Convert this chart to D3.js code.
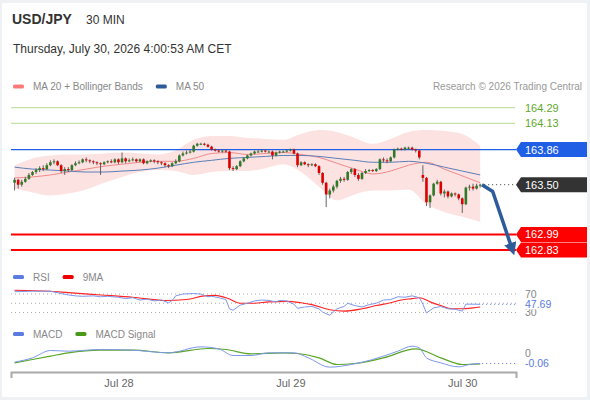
<!DOCTYPE html>
<html>
<head>
<meta charset="utf-8">
<script src="https://cdn.jsdelivr.net/npm/d3@7"></script>
<style>
    body { margin: 0; background: #eef2f5; }
    svg { display: block; font-family: "Liberation Sans", Arial, sans-serif; }
    .legend text { font-size: 10px; fill: #888; }
    .lvl { font-size: 11px; }
    .ind { font-size: 10.5px; }
</style>
</head>
<body>
<script>
// ---- data (USD/JPY, 30 min bars from Jul 27 09:30) ----
const opens = [163.52,163.55,163.50,163.53,163.56,163.60,163.63,163.65,163.67,163.66,
    163.70,163.73,163.74,163.70,163.64,163.66,163.65,163.70,163.72,163.73,
    163.76,163.75,163.74,163.73,163.72,163.71,163.73,163.74,163.73,163.76,
    163.73,163.77,163.74,163.75,163.76,163.74,163.76,163.72,163.74,163.75,
    163.74,163.73,163.72,163.70,163.69,163.72,163.74,163.80,163.82,163.83,
    163.84,163.90,163.92,163.92,163.91,163.89,163.86,163.85,163.84,163.85,
    163.84,163.67,163.66,163.69,163.74,163.77,163.80,163.82,163.84,163.84,
    163.85,163.84,163.84,163.80,163.83,163.84,163.84,163.85,163.86,163.82,
    163.70,163.73,163.71,163.70,163.71,163.69,163.62,163.52,163.40,163.44,
    163.48,163.54,163.56,163.55,163.63,163.66,163.60,163.56,163.62,163.64,
    163.65,163.64,163.66,163.76,163.75,163.74,163.78,163.86,163.87,163.86,
    163.88,163.88,163.86,163.85,163.60,163.57,163.32,163.39,163.51,163.53,
    163.41,163.43,163.38,163.41,163.40,163.36,163.30,163.47,163.48,163.46,
    163.49];
const closes = [163.55,163.50,163.53,163.56,163.60,163.63,163.65,163.67,163.66,163.70,
    163.73,163.74,163.70,163.64,163.66,163.65,163.70,163.72,163.73,163.76,
    163.75,163.74,163.73,163.72,163.71,163.73,163.74,163.73,163.76,163.73,
    163.77,163.74,163.75,163.76,163.74,163.76,163.72,163.74,163.75,163.74,
    163.73,163.72,163.70,163.69,163.72,163.74,163.80,163.82,163.83,163.84,
    163.90,163.92,163.92,163.91,163.89,163.86,163.85,163.84,163.85,163.84,
    163.67,163.66,163.69,163.74,163.77,163.80,163.82,163.84,163.84,163.85,
    163.84,163.84,163.80,163.83,163.84,163.84,163.85,163.86,163.82,163.70,
    163.73,163.71,163.70,163.71,163.69,163.62,163.52,163.40,163.44,163.48,
    163.54,163.56,163.55,163.63,163.66,163.60,163.56,163.62,163.64,163.65,
    163.64,163.66,163.76,163.75,163.74,163.78,163.86,163.87,163.86,163.88,
    163.88,163.86,163.85,163.78,163.57,163.32,163.39,163.51,163.53,163.41,
    163.43,163.38,163.41,163.40,163.36,163.30,163.47,163.48,163.46,163.49,
    163.50];
const highs = [163.57,163.56,163.55,163.58,163.62,163.64,163.67,163.69,163.70,163.72,
    163.75,163.76,163.75,163.71,163.68,163.68,163.71,163.74,163.75,163.77,
    163.78,163.76,163.75,163.74,163.73,163.74,163.75,163.76,163.77,163.77,
    163.83,163.78,163.77,163.78,163.77,163.77,163.77,163.75,163.76,163.76,
    163.75,163.74,163.73,163.71,163.73,163.76,163.81,163.84,163.85,163.86,
    163.91,163.93,163.93,163.93,163.92,163.90,163.87,163.86,163.86,163.86,
    163.85,163.69,163.70,163.75,163.78,163.81,163.83,163.85,163.86,163.86,
    163.86,163.85,163.85,163.84,163.85,163.85,163.86,163.87,163.87,163.83,
    163.74,163.74,163.72,163.72,163.72,163.70,163.63,163.53,163.46,163.50,
    163.55,163.58,163.58,163.64,163.67,163.67,163.62,163.63,163.66,163.66,
    163.66,163.67,163.77,163.78,163.77,163.79,163.87,163.88,163.88,163.89,
    163.89,163.89,163.87,163.86,163.70,163.58,163.40,163.52,163.55,163.54,
    163.45,163.44,163.42,163.42,163.41,163.37,163.48,163.50,163.51,163.51,
    163.51];
const lows = [163.44,163.46,163.48,163.52,163.55,163.59,163.61,163.63,163.64,163.65,
    163.69,163.71,163.69,163.62,163.60,163.63,163.64,163.69,163.71,163.72,
    163.73,163.72,163.71,163.70,163.60,163.70,163.72,163.72,163.72,163.71,
    163.72,163.72,163.73,163.74,163.73,163.73,163.71,163.71,163.73,163.72,
    163.71,163.70,163.68,163.67,163.68,163.71,163.73,163.79,163.81,163.82,
    163.83,163.89,163.91,163.90,163.88,163.85,163.84,163.83,163.83,163.83,
    163.65,163.64,163.65,163.68,163.73,163.76,163.79,163.81,163.83,163.83,
    163.83,163.83,163.76,163.79,163.82,163.83,163.83,163.84,163.81,163.68,
    163.69,163.70,163.68,163.69,163.68,163.60,163.50,163.27,163.36,163.42,
    163.46,163.52,163.53,163.54,163.61,163.58,163.54,163.55,163.61,163.63,
    163.63,163.63,163.65,163.73,163.72,163.73,163.77,163.85,163.85,163.85,
    163.86,163.85,163.83,163.76,163.53,163.28,163.26,163.38,163.50,163.39,
    163.37,163.36,163.37,163.38,163.34,163.21,163.29,163.44,163.44,163.45,
    163.47];

// MA 20 + Bollinger bands and MA 50, read every 5 bars
const bandIdx = [0,5,10,15,20,25,30,35,40,45,50,55,60,65,70,75,80,85,90,95,100,105,110,115,120,125,130];
const bbUpper = [163.70,163.77,163.80,163.81,163.81,163.82,163.83,163.82,163.81,163.85,163.96,164.00,164.00,
    163.98,163.97,163.96,164.02,164.06,164.04,163.98,163.92,163.97,164.04,164.06,164.05,164.02,163.90];
const bbLower = [163.46,163.42,163.39,163.41,163.45,163.52,163.58,163.63,163.65,163.64,163.60,163.63,163.64,
    163.64,163.67,163.71,163.63,163.48,163.34,163.40,163.44,163.44,163.45,163.30,163.22,163.17,163.12];
const ma20 = [163.57,163.58,163.60,163.63,163.66,163.69,163.71,163.73,163.74,163.74,163.77,163.82,163.83,
    163.81,163.82,163.83,163.81,163.78,163.72,163.66,163.61,163.64,163.70,163.73,163.66,163.59,163.52];
const ma50 = [163.68,163.66,163.65,163.64,163.63,163.63,163.64,163.65,163.67,163.70,163.73,163.75,163.77,
    163.78,163.79,163.80,163.80,163.79,163.77,163.75,163.73,163.73,163.74,163.72,163.68,163.64,163.60];

// RSI and its 9 period MA
const rsiIdx = [0,5,10,13,15,17,19,22,24,26,29,31,33,35,37,39,41,43,44,45,47,50,52,54,55,57,59,60,61,63,
    65,67,69,71,73,74,76,78,79,81,83,85,86,88,90,92,93,95,97,99,101,103,105,107,109,111,113,114,115,117,
    119,121,123,124,125,126,128,130];
const rsiVal = [75,76,76,71,68,66,65,66,64,65,63,60,62,57,59,55,57,51,56,66,70,71,70,64,65,62,58,38,35,46,
    50,55,57,56,53,56,55,48,39,42,43,38,31,24,38,43,50,45,42,47,50,57,58,64,63,66,62,48,29,40,
    43,38,37,35,33,48,48,47.69];
const rsiMaIdx = [0,10,15,24,33,42,48,53,56,60,63,67,71,76,80,83,88,92,97,101,105,108,111,113,116,119,122,125,128,130];
const rsiMaVal = [78,76,73,68,63,56,58,66,67,59,50,50,53,54,51,47,36,33,38,45,51,57,60,62,53,45,38,38,40,42];
const rsiLevels = [70, 50, 30];

// MACD and signal
const macdIdx = [0,5,10,15,24,33,43,52,57,61,66,71,78,82,88,94,100,107,111,113,115,119,124,127,130];
const macdVal = [-0.052,-0.026,0.018,0.014,0.024,0.020,0.004,0.040,0.028,-0.012,-0.012,0.004,0.004,
    -0.026,-0.082,-0.066,-0.036,0.014,0.044,0.034,-0.026,-0.056,-0.080,-0.066,-0.06];
const signalIdx = [0,10,15,24,33,43,54,59,66,75,79,85,90,95,103,112,119,125,130];
const signalVal = [-0.056,-0.016,0.004,0.020,0.020,0.004,0.030,0.024,-0.002,0.004,0.0,-0.026,-0.066,
    -0.060,-0.026,0.028,-0.026,-0.066,-0.062];

// key levels
const resistances = [164.29, 164.13];
const pivot = 163.86;
const lastPrice = 163.50;
const supports = [162.99, 162.83];

// forecast arrow (time, price)
const arrowTimes = [new Date(2026,6,30,2,45), new Date(2026,6,30,4,15), new Date(2026,6,30,6,55)];
const arrowPrices = [163.50, 163.43, 162.85];

const dayTicks = [new Date(2026,6,28), new Date(2026,6,29), new Date(2026,6,30)];

// ---- drawing ----
const firstBar = new Date(2026,6,27,9,30);
const barTime = i => d3.timeMinute.offset(firstBar, 30 * i);

const svg = d3.select("body").append("svg")
    .attr("width", 590)
    .attr("height", 400);

svg.append("rect")
    .attr("x", 2).attr("y", 3)
    .attr("width", 585).attr("height", 394)
    .attr("fill", "#fff");

const x = d3.scaleTime()
    .domain([new Date(2026,6,27,9,0), new Date(2026,6,30,7,30)])
    .range([11, 516]);
const y = d3.scaleLinear().domain([162.83, 164.29]).range([250, 107.7]);
const yRsi = d3.scaleLinear().domain([30, 70]).range([312.5, 294]);
const yMacd = d3.scaleLinear().domain([-0.06, 0]).range([363.5, 353.5]);

// header
svg.append("text").attr("x", 12).attr("y", 24)
    .attr("font-size", 14).attr("font-weight", "bold").attr("fill", "#333")
    .text("USD/JPY");
svg.append("text").attr("x", 86).attr("y", 24)
    .attr("font-size", 12).attr("fill", "#333")
    .text("30 MIN");
svg.append("text").attr("x", 13).attr("y", 52.5)
    .attr("font-size", 12).attr("fill", "#333")
    .text("Thursday, July 30, 2026 4:00:53 AM CET");
svg.append("text").attr("x", 582).attr("y", 89.5)
    .attr("font-size", 10).attr("fill", "#999").attr("text-anchor", "end")
    .text("Research \u00a9 2026 Trading Central");

function legend(items, ly) {
    let g = svg.append("g").attr("class", "legend");
    let lx = 13;
    items.forEach(function (it) {
        g.append("rect")
            .attr("x", lx).attr("y", ly - 2)
            .attr("width", 11).attr("height", 4).attr("rx", 1.5)
            .attr("fill", it[1]);
        let t = g.append("text")
            .attr("x", lx + 20).attr("y", ly + 3.5)
            .text(it[0]);
        lx += 20 + t.node().getComputedTextLength() + 13;
    });
}
legend([["MA 20 + Bollinger Bands", "#ff7b7b"], ["MA 50", "#2e5c99"]], 86.5);
legend([["RSI", "#5b7be0"], ["9MA", "#ee0000"]], 277);
legend([["MACD", "#5b7be0"], ["MACD Signal", "#4a9a1a"]], 334);

// main panel
const main = svg.append("g");

let bandData = bandIdx.map((b, k) => ({t: barTime(b), up: bbUpper[k], lo: bbLower[k], m20: ma20[k], m50: ma50[k]}));

main.append("path")
    .datum(bandData)
    .attr("fill", "#fde2e2")
    .attr("d", d3.area()
        .x(d => x(d.t))
        .y0(d => y(d.lo))
        .y1(d => y(d.up))
        .curve(d3.curveMonotoneX));

// green resistance lines
resistances.forEach(function (r) {
    main.append("line")
        .attr("x1", 11).attr("x2", 515)
        .attr("y1", y(r)).attr("y2", y(r))
        .attr("stroke", "#c6e0a8").attr("stroke-width", 1.2);
    main.append("text").attr("class", "lvl")
        .attr("x", 525).attr("y", y(r)).attr("dy", "0.35em")
        .attr("fill", "#5fa82a")
        .text(r.toFixed(2));
});

main.append("line")
    .attr("x1", 11).attr("x2", 516)
    .attr("y1", y(pivot)).attr("y2", y(pivot))
    .attr("stroke", "#1f5fe6").attr("stroke-width", 1.2);

supports.forEach(function (s) {
    main.append("line")
        .attr("x1", 11).attr("x2", 516)
        .attr("y1", y(s)).attr("y2", y(s))
        .attr("stroke", "#f00").attr("stroke-width", 2);
});

main.append("path")
    .datum(bandData)
    .attr("fill", "none").attr("stroke", "#f08a8a").attr("stroke-width", 1)
    .attr("d", d3.line().x(d => x(d.t)).y(d => y(d.m20)).curve(d3.curveMonotoneX));
main.append("path")
    .datum(bandData)
    .attr("fill", "none").attr("stroke", "#5a7fb8").attr("stroke-width", 1)
    .attr("d", d3.line().x(d => x(d.t)).y(d => y(d.m50)).curve(d3.curveMonotoneX));

// candles
let bars = closes.map((c, i) => ({t: barTime(i), o: opens[i], h: highs[i], l: lows[i], c: c}));

main.selectAll(".wick")
    .data(bars)
    .enter()
    .append("line")
    .attr("class", "wick")
    .attr("x1", d => x(d.t)).attr("x2", d => x(d.t))
    .attr("y1", d => y(d.h)).attr("y2", d => y(d.l))
    .attr("stroke", "#555").attr("stroke-width", 0.9);

main.selectAll(".body")
    .data(bars)
    .enter()
    .append("rect")
    .attr("class", "body")
    .attr("x", d => x(d.t) - 1.3)
    .attr("width", 2.6)
    .attr("y", d => y(Math.max(d.o, d.c)))
    .attr("height", d => Math.max(1, Math.abs(y(d.o) - y(d.c))))
    .attr("fill", d => d.c >= d.o ? "#2f7a25" : "#dd0000");

// last price dotted line
let lastT = barTime(closes.length - 1);
main.append("line")
    .attr("x1", x(lastT) + 4).attr("x2", 516)
    .attr("y1", y(lastPrice)).attr("y2", y(lastPrice))
    .attr("stroke", "#333").attr("stroke-dasharray", "1,3");

// forecast arrow
svg.append("defs").append("marker")
    .attr("id", "head")
    .attr("viewBox", "0 0 10 10")
    .attr("refX", 4).attr("refY", 5)
    .attr("markerWidth", 3.6).attr("markerHeight", 3.6)
    .attr("orient", "auto")
    .append("path")
    .attr("d", "M0,0L10,5L0,10z")
    .attr("fill", "#2d5c9a");

main.append("path")
    .datum(arrowTimes.map((t, k) => [x(t), y(arrowPrices[k])]))
    .attr("fill", "none")
    .attr("stroke", "#2d5c9a").attr("stroke-width", 3.5)
    .attr("stroke-linejoin", "round")
    .attr("marker-end", "url(#head)")
    .attr("d", d3.line());

// price tags on the right
function tag(val, fill) {
    let ty = y(val);
    main.append("path")
        .attr("d", "M516," + ty + "L521," + (ty - 7.5) + "H587V" + (ty + 7.5) + "H521Z")
        .attr("fill", fill);
    main.append("text").attr("class", "lvl")
        .attr("x", 525).attr("y", ty).attr("dy", "0.36em")
        .attr("fill", "#fff")
        .text(val.toFixed(2));
}
tag(pivot, "#1f5fe6");
tag(lastPrice, "#333");
supports.forEach(s => tag(s, "#f00"));

// RSI panel
const rsiG = svg.append("g");
rsiLevels.forEach(function (lv) {
    rsiG.append("line")
        .attr("x1", 11).attr("x2", 516)
        .attr("y1", yRsi(lv)).attr("y2", yRsi(lv))
        .attr("stroke", "#aaa").attr("stroke-dasharray", "1,3");
});
[70, 30].forEach(function (lv) {
    rsiG.append("text").attr("class", "ind")
        .attr("x", 525).attr("y", yRsi(lv)).attr("dy", "0.35em")
        .attr("fill", "#888").text(lv);
});

rsiG.append("path")
    .datum(rsiMaIdx.map((b, k) => [x(barTime(b)), yRsi(rsiMaVal[k])]))
    .attr("fill", "none").attr("stroke", "#f22").attr("stroke-width", 1.1)
    .attr("d", d3.line().curve(d3.curveMonotoneX));
rsiG.append("path")
    .datum(rsiIdx.map((b, k) => [x(barTime(b)), yRsi(rsiVal[k])]))
    .attr("fill", "none").attr("stroke", "#7d98ea").attr("stroke-width", 1)
    .attr("d", d3.line());

let rsiLast = rsiVal[rsiVal.length - 1];
rsiG.append("line")
    .attr("x1", x(lastT) + 2).attr("x2", 516)
    .attr("y1", yRsi(rsiLast)).attr("y2", yRsi(rsiLast))
    .attr("stroke", "#5b7be0").attr("stroke-dasharray", "1,3");
rsiG.append("rect")
    .attr("x", 523).attr("y", yRsi(rsiLast) - 5.5)
    .attr("width", 32).attr("height", 10.5).attr("fill", "#fff");
rsiG.append("text").attr("class", "ind")
    .attr("x", 525).attr("y", yRsi(rsiLast)).attr("dy", "0.35em")
    .attr("fill", "#5b7be0").text(rsiLast.toFixed(2));

// MACD panel
const macdG = svg.append("g");
macdG.append("path")
    .datum(signalIdx.map((b, k) => [x(barTime(b)), yMacd(signalVal[k])]))
    .attr("fill", "none").attr("stroke", "#5aa528").attr("stroke-width", 1.2)
    .attr("d", d3.line().curve(d3.curveMonotoneX));
macdG.append("path")
    .datum(macdIdx.map((b, k) => [x(barTime(b)), yMacd(macdVal[k])]))
    .attr("fill", "none").attr("stroke", "#7d98ea").attr("stroke-width", 1)
    .attr("d", d3.line().curve(d3.curveMonotoneX));

let macdLast = macdVal[macdVal.length - 1];
macdG.append("line")
    .attr("x1", x(lastT) + 2).attr("x2", 516)
    .attr("y1", yMacd(macdLast)).attr("y2", yMacd(macdLast))
    .attr("stroke", "#5b7be0").attr("stroke-dasharray", "1,3");
macdG.append("text").attr("class", "ind")
    .attr("x", 525).attr("y", yMacd(0)).attr("dy", "0.35em")
    .attr("fill", "#888").text("0");
macdG.append("text").attr("class", "ind")
    .attr("x", 525).attr("y", yMacd(macdLast)).attr("dy", "0.35em")
    .attr("fill", "#5b7be0").text(macdLast.toFixed(2));

// time axis
let axis = svg.append("g")
    .attr("transform", "translate(0,372)")
    .call(d3.axisBottom(x)
        .tickValues(dayTicks)
        .tickFormat(d3.timeFormat("%b %-d"))
        .tickSizeInner(0)
        .tickSizeOuter(6)
        .tickPadding(7));
axis.select(".domain").attr("stroke", "#aaa").attr("stroke-width", 2);
axis.selectAll("text")
    .attr("font-size", 11)
    .attr("font-family", "Liberation Sans, Arial, sans-serif")
    .attr("fill", "#666");
</script>
</body>
</html>
